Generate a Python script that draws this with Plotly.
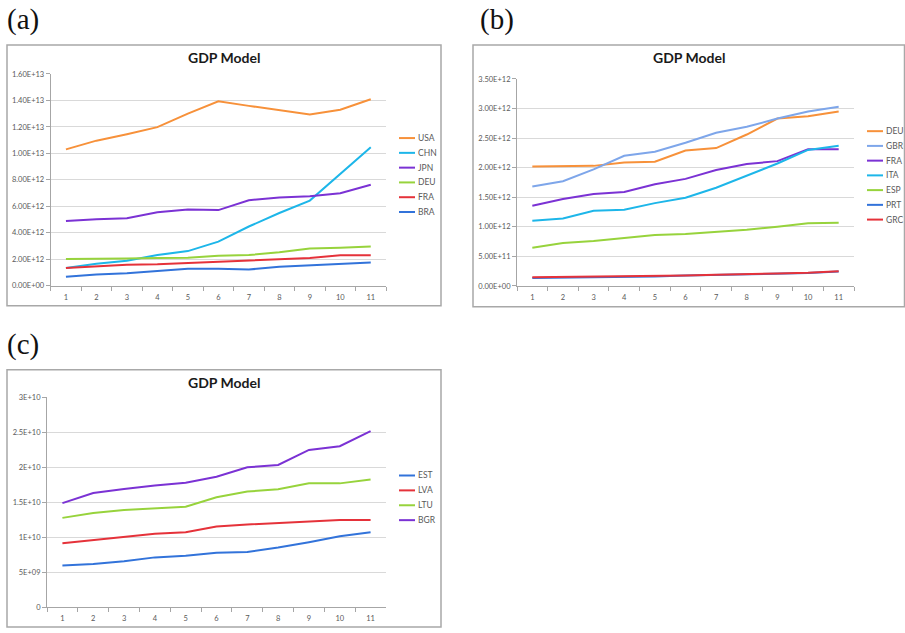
import plotly.graph_objects as go

W, H = 905, 633

periods = [str(i) for i in range(1, 12)]

# Panel (a): large economies
a_names = ["USA", "CHN", "JPN", "DEU", "FRA", "BRA"]
a_usa = [1.03e13, 1.096e13, 1.145e13, 1.198e13, 1.30e13, 1.394e13, 1.359e13, 1.327e13, 1.294e13, 1.33e13, 1.409e13]
a_chn = [1.34e12, 1.66e12, 1.89e12, 2.31e12, 2.61e12, 3.33e12, 4.47e12, 5.49e12, 6.43e12, 8.45e12, 1.046e13]
a_jpn = [4.89e12, 5.02e12, 5.09e12, 5.54e12, 5.76e12, 5.71e12, 6.46e12, 6.66e12, 6.76e12, 6.98e12, 7.63e12]
a_deu = [2.01e12, 2.01e12, 2.06e12, 2.09e12, 2.11e12, 2.26e12, 2.31e12, 2.53e12, 2.81e12, 2.86e12, 2.96e12]
a_fra = [1.34e12, 1.47e12, 1.57e12, 1.61e12, 1.71e12, 1.79e12, 1.91e12, 2.04e12, 2.09e12, 2.29e12, 2.29e12]
a_bra = [0.67e12, 0.84e12, 0.94e12, 1.09e12, 1.27e12, 1.27e12, 1.22e12, 1.42e12, 1.54e12, 1.64e12, 1.74e12]
a_colors = ["#F7913A", "#1DB6E9", "#7B32D4", "#97D33C", "#E5323A", "#3273DA"]
a_tickvals = [0, 2e12, 4e12, 6e12, 8e12, 1e13, 1.2e13, 1.4e13, 1.6e13]
a_ticktext = ["0.00E+00", "2.00E+12", "4.00E+12", "6.00E+12", "8.00E+12",
              "1.00E+13", "1.20E+13", "1.40E+13", "1.60E+13"]

# Panel (b): European economies
b_names = ["DEU", "GBR", "FRA", "ITA", "ESP", "PRT", "GRC"]
b_deu = [2.02e12, 2.03e12, 2.03e12, 2.085e12, 2.10e12, 2.29e12, 2.33e12, 2.56e12, 2.83e12, 2.87e12, 2.95e12]
b_gbr = [1.68e12, 1.77e12, 1.97e12, 2.20e12, 2.27e12, 2.42e12, 2.59e12, 2.69e12, 2.83e12, 2.95e12, 3.03e12]
b_fra = [1.355e12, 1.47e12, 1.555e12, 1.59e12, 1.72e12, 1.81e12, 1.96e12, 2.06e12, 2.11e12, 2.31e12, 2.31e12]
b_ita = [1.10e12, 1.14e12, 1.27e12, 1.29e12, 1.40e12, 1.49e12, 1.66e12, 1.87e12, 2.07e12, 2.30e12, 2.37e12]
b_esp = [0.647e12, 0.725e12, 0.76e12, 0.81e12, 0.86e12, 0.88e12, 0.91e12, 0.95e12, 1.00e12, 1.06e12, 1.07e12]
b_prt = [0.134e12, 0.14e12, 0.145e12, 0.156e12, 0.16e12, 0.178e12, 0.19e12, 0.20e12, 0.21e12, 0.217e12, 0.245e12]
b_grc = [0.145e12, 0.15e12, 0.15e12, 0.156e12, 0.167e12, 0.178e12, 0.19e12, 0.195e12, 0.21e12, 0.223e12, 0.25e12]
b_colors = ["#F7913A", "#7EA6EA", "#7B32D4", "#1DB6E9", "#97D33C", "#3273DA", "#E5323A"]
b_tickvals = [0, 5e11, 1e12, 1.5e12, 2e12, 2.5e12, 3e12, 3.5e12]
b_ticktext = ["0.00E+00", "5.00E+11", "1.00E+12", "1.50E+12", "2.00E+12",
              "2.50E+12", "3.00E+12", "3.50E+12"]

# Panel (c): small economies
c_names = ["EST", "LVA", "LTU", "BGR"]
c_est = [5.93e9, 6.16e9, 6.54e9, 7.10e9, 7.34e9, 7.76e9, 7.86e9, 8.51e9, 9.27e9, 1.011e10, 1.068e10]
c_lva = [9.12e9, 9.55e9, 1.002e10, 1.049e10, 1.068e10, 1.152e10, 1.181e10, 1.20e10, 1.218e10, 1.246e10, 1.246e10]
c_ltu = [1.275e10, 1.345e10, 1.388e10, 1.411e10, 1.435e10, 1.571e10, 1.651e10, 1.684e10, 1.769e10, 1.769e10, 1.825e10]
c_bgr = [1.486e10, 1.632e10, 1.689e10, 1.74e10, 1.778e10, 1.863e10, 1.999e10, 2.032e10, 2.248e10, 2.30e10, 2.516e10]
c_colors = ["#3273DA", "#E5323A", "#97D33C", "#7B32D4"]
c_tickvals = [0, 5e9, 1e10, 1.5e10, 2e10, 2.5e10, 3e10]
c_ticktext = ["0", "5E+09", "1E+10", "1.5E+10", "2E+10", "2.5E+10", "3E+10"]

TITLE = "GDP Model"


def px(x):
    return x / W


def py(y):
    return 1 - y / H


panels = [
    dict(tag="(a)", names=a_names, series=[a_usa, a_chn, a_jpn, a_deu, a_fra, a_bra],
         colors=a_colors, tickvals=a_tickvals, ticktext=a_ticktext, yrange=[0, 1.6e13],
         plot=(50.7, 386, 71, 285.7), box=(7, 441, 41.5, 306), label=(5, 16),
         title=(224, 54), legend=(399, 136, 15.0)),
    dict(tag="(b)", names=b_names, series=[b_deu, b_gbr, b_fra, b_ita, b_esp, b_prt, b_grc],
         colors=b_colors, tickvals=b_tickvals, ticktext=b_ticktext, yrange=[0, 3.5e12],
         plot=(517, 854, 76, 286), box=(473, 904.5, 41.5, 307), label=(478, 16),
         title=(689, 54), legend=(867, 129, 14.95)),
    dict(tag="(c)", names=c_names, series=[c_est, c_lva, c_ltu, c_bgr],
         colors=c_colors, tickvals=c_tickvals, ticktext=c_ticktext, yrange=[0, 3e10],
         plot=(47, 386, 399, 611.7), box=(7, 441, 371, 632), label=(5, 345),
         title=(224, 384), legend=(399, 478.3, 15.1)),
]

fig = go.Figure()
shapes, annotations = [], []
layout_axes = {}

GRID = "#D9D9D9"
AXIS = "#A6A6A6"
TICKFONT = dict(family="Lato, Carlito, sans-serif", size=7.5, color="#595959")

for i, p in enumerate(panels, start=1):
    sfx = "" if i == 1 else str(i)
    xa, ya = "x" + sfx, "y" + sfx
    for name, vals, col in zip(p["names"], p["series"], p["colors"]):
        fig.add_trace(go.Scatter(x=periods, y=vals, name=name, mode="lines",
                                 line=dict(color=col, width=2),
                                 xaxis=xa, yaxis=ya, showlegend=False))

    x0, x1, y0, y1 = p["plot"]
    layout_axes["xaxis" + sfx] = dict(
        domain=[px(x0), px(x1)], anchor=ya, type="category",
        range=[-0.5, len(periods) - 0.5],
        tickson="boundaries", ticks="outside", ticklen=4, tickcolor=AXIS,
        ticklabelstandoff=4,
        showline=True, linecolor=AXIS, linewidth=1, showgrid=False,
        tickfont=TICKFONT, fixedrange=True)
    layout_axes["yaxis" + sfx] = dict(
        domain=[py(y1), py(y0)], anchor=xa, range=p["yrange"],
        tickmode="array", tickvals=p["tickvals"], ticktext=p["ticktext"],
        ticks="outside", ticklen=4, tickcolor=AXIS,
        showline=True, linecolor=AXIS, linewidth=1,
        showgrid=True, gridcolor=GRID, gridwidth=1, zeroline=False,
        tickfont=TICKFONT, fixedrange=True)

    # chart frame
    bx0, bx1, by0, by1 = p["box"]
    shapes.append(dict(type="rect", xref="paper", yref="paper",
                       x0=px(bx0), x1=px(bx1), y0=py(by1), y1=py(by0),
                       line=dict(color="#A8A8A8", width=1.5), fillcolor="rgba(0,0,0,0)"))

    # chart title
    tx, ty = p["title"]
    annotations.append(dict(text="<b>%s</b>" % TITLE, x=px(tx), y=py(ty),
                            xref="paper", yref="paper", xanchor="center", yanchor="middle",
                            showarrow=False,
                            font=dict(family="Lato, Carlito, sans-serif", size=14, color="#1A1A1A")))

    # panel letter
    lx, ly = p["label"]
    annotations.append(dict(text=p["tag"], x=px(lx), y=py(ly), xref="paper", yref="paper",
                            xanchor="left", yanchor="middle", showarrow=False,
                            font=dict(family="Liberation Serif, Times New Roman, serif",
                                      size=29, color="#111111")))

    # series key
    gx, gy, step = p["legend"]
    for k, (name, col) in enumerate(zip(p["names"], p["colors"])):
        yy = gy + k * step
        shapes.append(dict(type="line", xref="paper", yref="paper",
                           x0=px(gx), x1=px(gx + 16), y0=py(yy), y1=py(yy),
                           line=dict(color=col, width=2)))
        annotations.append(dict(text=name, x=px(gx + 17), y=py(yy), xref="paper", yref="paper",
                                xanchor="left", yanchor="middle", showarrow=False,
                                font=dict(family="Lato, Carlito, sans-serif", size=8.5,
                                          color="#595959")))

fig.update_layout(
    width=W, height=H, autosize=False,
    margin=dict(l=0, r=0, t=0, b=0),
    paper_bgcolor="white", plot_bgcolor="white",
    showlegend=False,
    shapes=shapes, annotations=annotations,
    **layout_axes,
)

fig.write_html("out.html", config={"displayModeBar": False})
